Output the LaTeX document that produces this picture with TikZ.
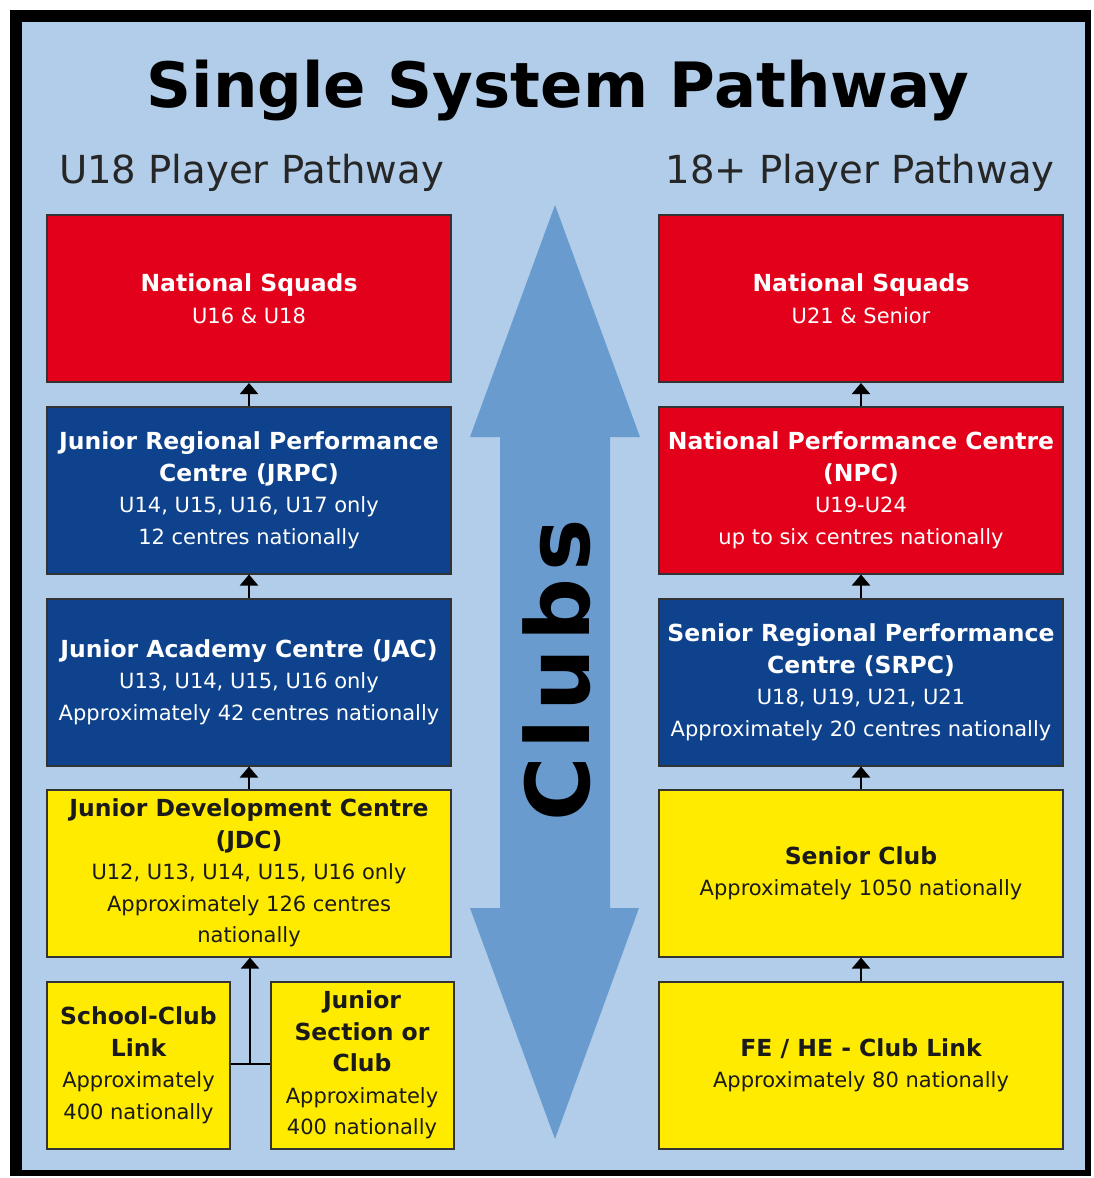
\documentclass[tikz,border=0pt]{standalone}
\usepackage{fontspec}
\setmainfont{DejaVu Sans}
\usetikzlibrary{arrows.meta}
\definecolor{bgblue}{HTML}{B1CDE9}
\definecolor{arrblue}{HTML}{6A9BCF}
\definecolor{boxred}{HTML}{E2001A}
\definecolor{boxnavy}{HTML}{0F428C}
\definecolor{boxyellow}{HTML}{FFEB00}
\definecolor{darktxt}{HTML}{1A1A1A}
\newcommand{\hd}[1]{{\bfseries\fontsize{23.5}{31.5}\selectfont #1}}
\tikzset{
  pbox/.style={draw=black!80, line width=2pt, minimum width=404pt, minimum height=167pt,
    align=center, inner sep=2pt, font=\fontsize{21}{31.5}\selectfont},
  redbox/.style={pbox, fill=boxred, text=white},
  navybox/.style={pbox, fill=boxnavy, text=white},
  yelbox/.style={pbox, fill=boxyellow, text=darktxt},
  smallbox/.style={minimum width=183pt},
  uparr/.style={line width=2pt, -{Triangle[width=18pt,length=11pt]}},
  conn/.style={line width=2pt}
}
\begin{document}
\begin{tikzpicture}[x=1pt,y=-1pt]
\useasboundingbox (0,0) rectangle (1094,1178);
% frame
\fill[white] (0,0) rectangle (1094,1178);
\fill[black] (10,10) rectangle (1091,1176);
\fill[bgblue] (22,22) rectangle (1085,1170);
% title
\node[anchor=base, inner sep=0, font=\bfseries\fontsize{62.5}{70}\selectfont] (title) at (558,107) {Single System Pathway};
\node[anchor=base, inner sep=0, font=\fontsize{38.6}{44}\selectfont, text=black!85] (subl) at (251.5,183) {U18 Player Pathway};
\node[anchor=base, inner sep=0, font=\fontsize{38.6}{44}\selectfont, text=black!85] (subr) at (860,183) {18+ Player Pathway};
% big double arrow
\fill[arrblue] (555,205) -- (640,437) -- (610,437) -- (610,908) -- (639,908) -- (555,1139)
  -- (470,908) -- (500,908) -- (500,437) -- (470,437) -- cycle;
\node[rotate=90, inner sep=0, font=\bfseries\fontsize{88}{96}\selectfont] (clubs) at (557,670)
  {C\kern7.5pt l\kern7.5pt u\kern7.5pt b\kern7.5pt s};
% left column
\node[redbox] (lns) at (249,298.5) {\hd{National Squads}\\U16 \& U18};
\node[navybox] (jrpc) at (249,490) {\hd{Junior Regional Performance}\\\hd{Centre (JRPC)}\\U14, U15, U16, U17 only\\12 centres nationally};
\node[navybox] (jac) at (249,682) {\hd{Junior Academy Centre (JAC)}\\U13, U14, U15, U16 only\\Approximately 42 centres nationally};
\node[yelbox] (jdc) at (249,873) {\hd{Junior Development Centre}\\\hd{(JDC)}\\U12, U13, U14, U15, U16 only\\Approximately 126 centres\\nationally};
\node[yelbox, smallbox] (scl) at (138.5,1065) {\hd{School-Club}\\\hd{Link}\\Approximately\\400 nationally};
\node[yelbox, smallbox] (jsc) at (362,1065) {\hd{Junior}\\\hd{Section or}\\\hd{Club}\\Approximately\\400 nationally};
% right column
\node[redbox] (rns) at (861,298.5) {\hd{National Squads}\\U21 \& Senior};
\node[redbox] (npc) at (861,490) {\hd{National Performance Centre}\\\hd{(NPC)}\\U19-U24\\up to six centres nationally};
\node[navybox] (srpc) at (861,682) {\hd{Senior Regional Performance}\\\hd{Centre (SRPC)}\\U18, U19, U21, U21\\Approximately 20 centres nationally};
\node[yelbox] (sc) at (861,873) {\hd{Senior Club}\\Approximately 1050 nationally};
\node[yelbox] (fehe) at (861,1065) {\hd{FE / HE - Club Link}\\Approximately 80 nationally};
% connectors
\draw[uparr] (jrpc.north) -- (lns.south);
\draw[uparr] (jac.north) -- (jrpc.south);
\draw[uparr] (jdc.north) -- (jac.south);
\coordinate (m) at (250,1064);
\draw[conn] (scl.east |- m) -- (jsc.west |- m);
\draw[uparr] (m) -- (m |- jdc.south);
\draw[uparr] (npc.north) -- (rns.south);
\draw[uparr] (srpc.north) -- (npc.south);
\draw[uparr] (sc.north) -- (srpc.south);
\draw[uparr] (fehe.north) -- (sc.south);
\end{tikzpicture}
\end{document}
